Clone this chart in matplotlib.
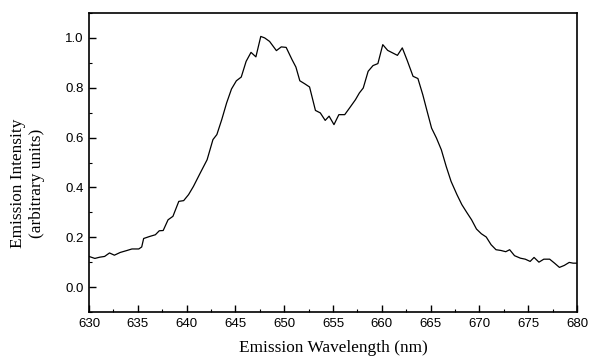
import matplotlib
matplotlib.use("Agg")
import matplotlib.pyplot as plt
from matplotlib.ticker import MultipleLocator

wavelength = [630.0, 630.6, 631.1, 631.6, 632.1, 632.6, 633.2, 633.9, 634.4, 635.1,
              635.4, 635.6, 636.2, 636.8, 637.2, 637.6, 638.1, 638.6, 639.2, 639.7,
              640.2, 640.7, 641.4, 642.1, 642.7, 643.1, 643.6, 644.1, 644.6, 645.1,
              645.6, 646.1, 646.6, 647.1, 647.6, 648.0, 648.5, 649.2, 649.7, 650.2,
              650.8, 651.2, 651.6, 652.1, 652.6, 653.2, 653.7, 654.2, 654.6, 655.1,
              655.6, 656.2, 656.7, 657.3, 657.7, 658.1, 658.6, 659.1, 659.6, 660.1,
              660.6, 661.1, 661.6, 662.1, 662.6, 663.2, 663.7, 664.2, 664.6, 665.1,
              665.6, 666.1, 666.6, 667.1, 667.7, 668.2, 668.7, 669.2, 669.7, 670.2,
              670.7, 671.2, 671.7, 672.2, 672.7, 673.1, 673.6, 674.2, 674.7, 675.2,
              675.6, 676.1, 676.6, 677.2, 677.7, 678.2, 678.7, 679.2, 679.6, 680.0]
intensity = [0.123, 0.115, 0.120, 0.123, 0.137, 0.128, 0.139, 0.147, 0.153, 0.153,
             0.161, 0.195, 0.203, 0.210, 0.226, 0.227, 0.270, 0.284, 0.344, 0.347,
             0.371, 0.404, 0.458, 0.511, 0.592, 0.612, 0.672, 0.739, 0.795, 0.828,
             0.843, 0.906, 0.942, 0.924, 1.006, 1.000, 0.986, 0.949, 0.964, 0.962,
             0.913, 0.883, 0.828, 0.816, 0.803, 0.709, 0.699, 0.669, 0.686, 0.652,
             0.692, 0.692, 0.719, 0.752, 0.779, 0.799, 0.866, 0.889, 0.897, 0.973,
             0.950, 0.940, 0.930, 0.960, 0.910, 0.846, 0.837, 0.772, 0.712, 0.638,
             0.598, 0.551, 0.484, 0.424, 0.371, 0.331, 0.300, 0.270, 0.233, 0.214,
             0.201, 0.170, 0.150, 0.147, 0.142, 0.150, 0.126, 0.116, 0.112, 0.103,
             0.119, 0.100, 0.112, 0.112, 0.096, 0.079, 0.087, 0.099, 0.096, 0.096]

xticks = [630, 635, 640, 645, 650, 655, 660, 665, 670, 675, 680]
yticks = [0.0, 0.2, 0.4, 0.6, 0.8, 1.0]

W, H = 590, 356
fig = plt.figure(figsize=(W / 100, H / 100), dpi=100)
ax = fig.add_axes([89 / W, 1 - 312 / H, (577 - 89) / W, (312 - 13) / H])
ax.plot(wavelength, intensity, color="black", linewidth=0.9)
ax.set_xlim(630, 680)
ax.set_ylim(-0.1, 1.1)
ax.set_xticks(xticks)
ax.set_yticks(yticks)
ax.set_xticklabels([str(t) for t in xticks], family="Liberation Sans", fontsize=9.5)
ax.set_yticklabels([f"{t:.1f}" for t in yticks], family="Liberation Sans", fontsize=9.5)
ax.xaxis.set_minor_locator(MultipleLocator(2.5))
ax.yaxis.set_minor_locator(MultipleLocator(0.1))
ax.tick_params(which="major", direction="in", length=5, width=1, top=False, right=False, pad=4)
ax.tick_params(which="minor", direction="in", length=2.5, width=0.8, top=False, right=False)
for s in ax.spines.values():
    s.set_linewidth(1.2)

fig.text(333 / W, 1 - 348 / H, "Emission Wavelength (nm)", family="Liberation Serif",
         fontsize=12.4, ha="center", va="center")
fig.text(27.5 / W, 1 - 183 / H, "Emission Intensity\n(arbitrary units)", family="Liberation Serif",
         fontsize=12.4, ha="center", va="center", rotation=90, linespacing=1.2,
         multialignment="center")
fig.savefig("out.png", dpi=100)
